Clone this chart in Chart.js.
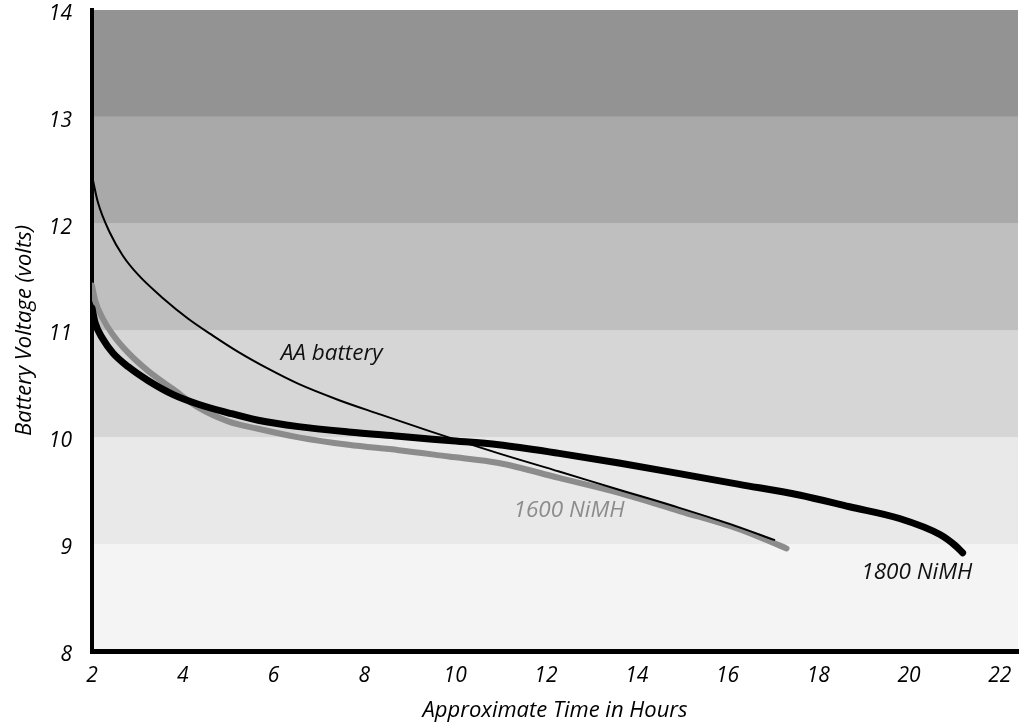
<!DOCTYPE html>
<html>
<head>
<meta charset="utf-8">
<script src="https://cdn.jsdelivr.net/npm/chart.js@4"></script>
<style>
  body { margin: 0; background: #fff; }
  canvas { display: block; }
</style>
</head>
<body>
<canvas id="chart" width="1031" height="726"></canvas>
<script>
// hours / volts
const aaHours = [2, 2.13, 2.4, 2.68, 3.02, 3.57, 4.12, 4.67, 5.22, 5.89, 6.55, 7.43, 8.31, 9.42, 10.96, 12.29, 13.61, 14.94, 16.04, 17.03];
const aaVolts = [12.45, 12.2, 11.91, 11.7, 11.52, 11.3, 11.11, 10.95, 10.8, 10.64, 10.5, 10.35, 10.22, 10.06, 9.85, 9.68, 9.51, 9.34, 9.19, 9.04];

const nimh1800Hours = [2, 2.07, 2.24, 2.46, 2.8, 3.24, 3.79, 4.34, 5.0, 5.66, 6.55, 7.65, 8.76, 9.86, 10.96, 12.29, 13.61, 14.94, 16.26, 17.58, 18.69, 19.79, 20.68, 21.01, 21.18];
const nimh1800Volts = [11.21, 11.07, 10.92, 10.79, 10.66, 10.53, 10.4, 10.31, 10.23, 10.16, 10.1, 10.05, 10.01, 9.97, 9.93, 9.85, 9.76, 9.66, 9.56, 9.46, 9.35, 9.24, 9.09, 8.99, 8.92];

const nimh1600Hours = [2, 2.07, 2.24, 2.46, 2.8, 3.24, 3.79, 4.34, 5.0, 5.66, 6.55, 7.65, 8.76, 9.86, 10.96, 12.29, 13.61, 14.94, 16.26, 17.3];
const nimh1600Volts = [11.42, 11.28, 11.11, 10.96, 10.79, 10.62, 10.45, 10.28, 10.15, 10.08, 10.0, 9.93, 9.88, 9.82, 9.76, 9.62, 9.48, 9.31, 9.14, 8.96];

const xTicks = [2, 4, 6, 8, 10, 12, 14, 16, 18, 20, 22];
const yTicks = [8, 9, 10, 11, 12, 13, 14];

// shaded voltage bands
const bandFrom = [8, 9, 10, 11, 12, 13];
const bandTo = [9, 10, 11, 12, 13, 14];
const bandColors = ['#f4f4f4', '#e9e9e9', '#d6d6d6', '#bfbfbf', '#a9a9a9', '#939393'];

// curve labels
const labelText = ['AA battery', '1600 NiMH', '1800 NiMH'];
const labelHours = [7.28, 12.51, 20.17];
const labelVolts = [10.78, 9.31, 8.73];
const labelColors = ['#111', '#8c8c8c', '#111'];

const FONT = "'Open Sans', sans-serif";

function pts(xs, ys) {
  return xs.map((x, i) => ({ x: x, y: ys[i] }));
}

const bandsPlugin = {
  id: 'bands',
  beforeDraw(chart) {
    const ctx = chart.ctx;
    const area = chart.chartArea;
    const y = chart.scales.y;
    ctx.save();
    bandFrom.forEach((lo, i) => {
      const top = y.getPixelForValue(bandTo[i]);
      const bottom = y.getPixelForValue(lo);
      ctx.fillStyle = bandColors[i];
      ctx.fillRect(area.left, top, area.right - area.left, bottom - top);
    });
    ctx.restore();
  }
};

const labelsPlugin = {
  id: 'curveLabels',
  afterDatasetsDraw(chart) {
    const ctx = chart.ctx;
    const xs = chart.scales.x;
    const ys = chart.scales.y;
    ctx.save();
    ctx.font = 'italic 22.5px ' + FONT;
    ctx.textAlign = 'center';
    ctx.textBaseline = 'middle';
    labelText.forEach((t, i) => {
      ctx.fillStyle = labelColors[i];
      ctx.fillText(t, xs.getPixelForValue(labelHours[i]), ys.getPixelForValue(labelVolts[i]));
    });
    ctx.restore();
  }
};

const ctx = document.getElementById('chart').getContext('2d');
const myChart = new Chart(ctx, {
  type: 'line',
  data: {
    datasets: [{
      label: 'AA battery',
      data: pts(aaHours, aaVolts),
      borderColor: '#000',
      borderWidth: 2,
      borderCapStyle: 'round',
      cubicInterpolationMode: 'monotone',
      pointRadius: 0
    }, {
      label: '1800 NiMH',
      data: pts(nimh1800Hours, nimh1800Volts),
      borderColor: '#000',
      borderWidth: 7,
      borderCapStyle: 'round',
      cubicInterpolationMode: 'monotone',
      pointRadius: 0
    }, {
      label: '1600 NiMH',
      data: pts(nimh1600Hours, nimh1600Volts),
      borderColor: '#8c8c8c',
      borderWidth: 6,
      borderCapStyle: 'round',
      cubicInterpolationMode: 'monotone',
      pointRadius: 0
    }]
  },
  options: {
    responsive: false,
    animation: false,
    layout: { padding: { top: 10, right: 13, left: 0, bottom: 0 } },
    plugins: {
      legend: { display: false },
      tooltip: { enabled: false }
    },
    scales: {
      x: {
        type: 'linear',
        min: 2,
        max: 22.4,
        afterBuildTicks: (scale) => { scale.ticks = xTicks.map(v => ({ value: v })); },
        afterFit: (scale) => {
          scale.height = 75;
          scale.paddingLeft = 0;
          scale.paddingRight = 0;
        },
        grid: { drawOnChartArea: false, drawTicks: false },
        border: { display: true, color: '#000', width: 5 },
        ticks: {
          padding: 12,
          color: '#000',
          font: { family: FONT, size: 21, style: 'italic' },
          maxRotation: 0
        },
        title: {
          display: true,
          text: 'Approximate Time in Hours',
          color: '#000',
          font: { family: FONT, size: 22, style: 'italic' },
          padding: { top: 0, bottom: 2 }
        }
      },
      y: {
        min: 8,
        max: 14,
        afterBuildTicks: (scale) => { scale.ticks = yTicks.map(v => ({ value: v })); },
        afterFit: (scale) => {
          scale.width = 92;
          scale.paddingTop = 0;
          scale.paddingBottom = 0;
        },
        grid: { drawOnChartArea: false, drawTicks: false },
        border: { display: true, color: '#000', width: 4 },
        ticks: {
          padding: 20,
          labelOffset: 4,
          color: '#000',
          font: { family: FONT, size: 21, style: 'italic' }
        },
        title: {
          display: true,
          text: 'Battery Voltage (volts)',
          color: '#000',
          font: { family: FONT, size: 22, style: 'italic' },
          padding: { top: 12, bottom: 0 }
        }
      }
    }
  },
  plugins: [bandsPlugin, labelsPlugin]
});
</script>
</body>
</html>
